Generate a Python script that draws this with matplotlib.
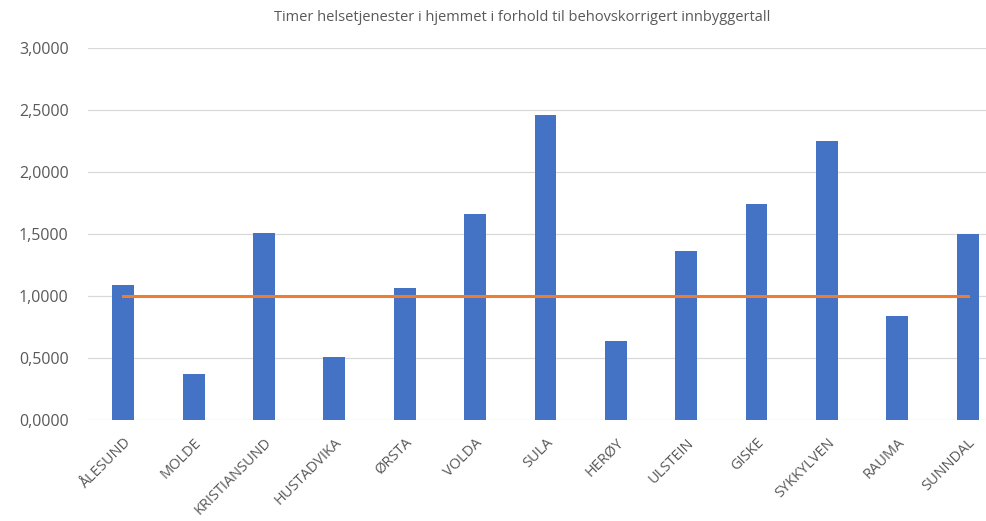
import matplotlib
matplotlib.use("Agg")
import matplotlib.pyplot as plt
from matplotlib.ticker import FuncFormatter

# data
kommuner = ['ÅLESUND', 'MOLDE', 'KRISTIANSUND', 'HUSTADVIKA', 'ØRSTA', 'VOLDA',
            'SULA', 'HERØY', 'ULSTEIN', 'GISKE', 'SYKKYLVEN', 'RAUMA', 'SUNNDAL']
timer = [1.086, 0.374, 1.506, 0.508, 1.065, 1.659, 2.457, 0.637, 1.360,
         1.740, 2.247, 0.836, 1.497]
snitt = [1.0] * len(kommuner)
yticks = [0.0, 0.5, 1.0, 1.5, 2.0, 2.5, 3.0]

plt.rcParams['font.family'] = ['Open Sans', 'DejaVu Sans']
grey = '#595959'

fig = plt.figure(figsize=(9.86, 5.21), dpi=100)
ax = fig.add_axes([0.0893, 0.194, 0.9107, 0.714])

x = list(range(len(kommuner)))
ax.bar(x, timer, width=0.31, color='#4472C4', zorder=2)
ax.plot(x, snitt, color='#ED7D31', linewidth=2.2, zorder=3)

ax.set_ylim(0, 3.0)
ax.set_xlim(-0.5, 12.26)
ax.set_yticks(yticks)
ax.yaxis.set_major_formatter(FuncFormatter(lambda v, p: f'{v:.4f}'.replace('.', ',')))
ax.set_xticks(x)
ax.set_xticklabels(kommuner, rotation=45, ha='right', rotation_mode='anchor')
ax.tick_params(axis='y', length=0, colors=grey, labelsize=11.5, pad=14)
ax.tick_params(axis='x', length=0, colors=grey, labelsize=10.5, pad=11)
ax.grid(axis='y', color='#d9d9d9', linewidth=0.9, zorder=0)
for s in ax.spines.values():
    s.set_visible(False)

fig.text(0.53, 0.967, 'Timer helsetjenester i hjemmet i forhold til behovskorrigert innbyggertall',
         ha='center', va='center', fontsize=10.5, color=grey)

fig.savefig('out.png', dpi=100)
